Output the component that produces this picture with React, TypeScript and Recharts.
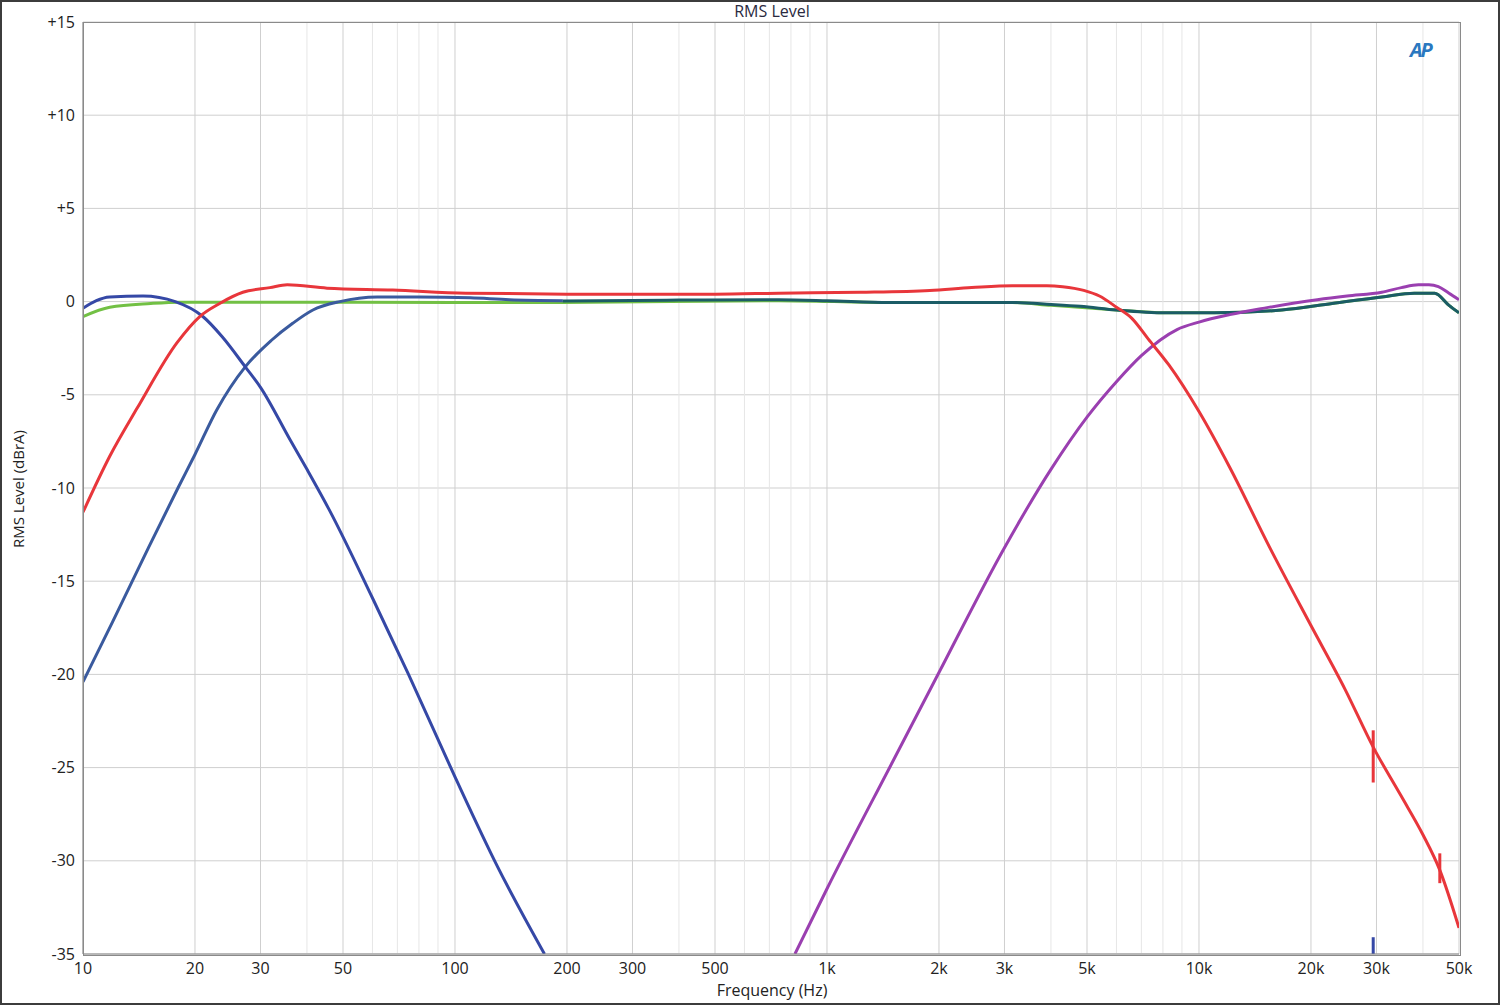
import React from "react";
import {
  LineChart,
  Line,
  XAxis,
  YAxis,
  CartesianGrid,
  ReferenceLine,
} from "recharts";

// frequency (Hz) / level (dBrA) pairs
const redFreq = [10, 11.8, 14, 17.9, 20.6, 23.3, 26.9, 31.8, 35.4, 45.3, 68, 107, 200, 500, 742, 1230, 1890, 2450, 3150, 3900, 4300, 4900, 5400, 6000, 6600, 7300, 8300, 10000, 12100, 15500, 19900, 24700, 29400, 34900, 40000, 44400, 50000];
const redLevel = [-11.3, -8.3, -5.7, -2.2, -0.8, -0.1, 0.5, 0.75, 0.9, 0.72, 0.62, 0.45, 0.4, 0.4, 0.45, 0.5, 0.6, 0.75, 0.85, 0.85, 0.8, 0.6, 0.3, -0.3, -0.9, -2.0, -3.4, -5.9, -8.9, -13.2, -17.3, -20.8, -23.9, -26.5, -28.6, -30.5, -33.6];

// short vertical glitches in the red trace
const redMark1Freq = [29400, 29400];
const redMark1Level = [-23.0, -25.8];
const redMark2Freq = [44400, 44400];
const redMark2Level = [-29.6, -31.2];

const blueLowFreq = [10, 11.8, 14.5, 17.7, 21, 23.7, 27.3, 30, 36, 40, 46, 60, 75, 100, 130, 174];
const blueLowLevel = [-0.35, 0.25, 0.3, 0, -0.8, -1.9, -3.5, -4.6, -7.4, -9.0, -11.2, -15.9, -20.0, -25.5, -30.3, -35];

const blueMarkFreq = [29400, 29400];
const blueMarkLevel = [-35, -34.1];

const blueHighFreq = [10, 12, 15, 18, 20, 22.9, 27.3, 32, 36.7, 41.5, 49, 61.8, 80, 110, 140, 195];
const blueHighLevel = [-20.4, -17.2, -13.2, -10.0, -8.2, -5.8, -3.5, -2.1, -1.15, -0.45, 0, 0.25, 0.25, 0.2, 0.1, 0.05];

const greenFreq = [10, 11.8, 15.2, 18.2, 30, 100, 195, 742, 1470, 3150, 4000, 6000, 8100, 11000, 16700, 22800, 31000, 37900, 43000, 47000, 50000];
const greenLevel = [-0.8, -0.3, -0.1, -0.03, -0.03, -0.05, -0.05, 0.05, -0.05, -0.05, -0.2, -0.45, -0.6, -0.6, -0.45, -0.1, 0.25, 0.45, 0.45, -0.2, -0.6];

const tealFreq = [195, 400, 742, 1000, 1470, 3150, 4000, 4800, 6000, 8100, 11000, 16700, 22800, 31000, 37900, 43000, 47000, 50000];
const tealLevel = [0.03, 0.08, 0.1, 0.05, -0.05, -0.05, -0.15, -0.25, -0.45, -0.6, -0.6, -0.45, -0.1, 0.25, 0.45, 0.45, -0.2, -0.6];

const purpleFreq = [820, 1000, 1500, 2000, 3000, 4000, 5000, 6000, 7000, 8730, 10000, 12100, 15000, 20800, 25000, 31000, 35000, 38900, 41500, 44000, 47000, 50000];
const purpleLevel = [-35, -31.5, -24.7, -19.9, -13.2, -9.0, -6.2, -4.3, -2.9, -1.5, -1.1, -0.7, -0.35, 0.1, 0.3, 0.5, 0.75, 0.9, 0.9, 0.8, 0.45, 0.1];

const xTicks = [10, 20, 30, 50, 100, 200, 300, 500, 1000, 2000, 3000, 5000, 10000, 20000, 30000, 50000];
const xMinor = [40, 60, 70, 80, 90, 400, 600, 700, 800, 900, 4000, 6000, 7000, 8000, 9000, 40000];
const yTicks = [-35, -30, -25, -20, -15, -10, -5, 0, 5, 10, 15];

const zip = (f: number[], v: number[]) => f.map((x, i) => ({ f: x, v: v[i] }));

const RED = "#e8363b";
const BLUE_LOW = "#3548a6";
const BLUE_HIGH = "#3a5a9e";
const GREEN = "#72c044";
const TEAL = "#1b5c66";
const PURPLE = "#9a3fb0";

const FONT = "'Open Sans', 'Noto Sans', sans-serif";

const fmtX = (v: number) => (v >= 1000 ? `${v / 1000}k` : `${v}`);
const fmtY = (v: number) => (v > 0 ? `+${v}` : `${v}`);

export default function App() {
  const series = [
    { key: "green", data: zip(greenFreq, greenLevel), color: GREEN, smooth: true },
    { key: "teal", data: zip(tealFreq, tealLevel), color: TEAL, smooth: true },
    { key: "blueHigh", data: zip(blueHighFreq, blueHighLevel), color: BLUE_HIGH, smooth: true },
    { key: "blueLow", data: zip(blueLowFreq, blueLowLevel), color: BLUE_LOW, smooth: true },
    { key: "blueMark", data: zip(blueMarkFreq, blueMarkLevel), color: BLUE_LOW, smooth: false },
    { key: "purple", data: zip(purpleFreq, purpleLevel), color: PURPLE, smooth: true },
    { key: "red", data: zip(redFreq, redLevel), color: RED, smooth: true },
    { key: "redMark1", data: zip(redMark1Freq, redMark1Level), color: RED, smooth: false },
    { key: "redMark2", data: zip(redMark2Freq, redMark2Level), color: RED, smooth: false },
  ];

  return (
    <div
      style={{
        position: "absolute",
        left: 0,
        top: 0,
        width: 1500,
        height: 1005,
        boxSizing: "border-box",
        border: "2px solid #3c3c3c",
        background: "#fff",
        fontFamily: FONT,
        overflow: "hidden",
      }}
    >
      <div style={{ position: "absolute", left: -2, top: -2 }}>
        <LineChart
          width={1500}
          height={1005}
          margin={{ top: 22, right: 41, bottom: 0, left: 0 }}
        >
          <CartesianGrid stroke="#cfcfcf" strokeWidth={1} />
          {xMinor.map((m) => (
            <ReferenceLine key={m} x={m} stroke="#e6e6e6" strokeWidth={1} />
          ))}
          <XAxis
            dataKey="f"
            type="number"
            scale="log"
            domain={[10, 50000]}
            ticks={xTicks}
            tickFormatter={fmtX}
            allowDataOverflow
            interval={0}
            height={51}
            tickLine={false}
            tickSize={0}
            tickMargin={9}
            axisLine={{ stroke: "#888" }}
            tick={{ fontSize: 16, fill: "#222", fontFamily: FONT }}
          />
          <YAxis
            type="number"
            domain={[-35, 15]}
            ticks={yTicks}
            tickFormatter={fmtY}
            allowDataOverflow
            width={83}
            tickLine={false}
            tickSize={0}
            tickMargin={8}
            axisLine={{ stroke: "#888" }}
            tick={{ fontSize: 16, fill: "#222", fontFamily: FONT }}
          />
          {series.map((s) => (
            <Line
              key={s.key}
              data={s.data}
              dataKey="v"
              type={s.smooth ? "monotone" : "linear"}
              stroke={s.color}
              strokeWidth={3}
              dot={false}
              activeDot={false}
              isAnimationActive={false}
            />
          ))}
        </LineChart>
      </div>

      {/* plot frame */}
      <div
        style={{
          position: "absolute",
          left: 81,
          top: 20,
          width: 1376,
          height: 932,
          border: "1px solid #8a8a8a",
          pointerEvents: "none",
        }}
      />

      <div
        style={{
          position: "absolute",
          left: 0,
          width: 1540,
          top: -2,
          textAlign: "center",
          fontSize: 16,
          color: "#2a2a40",
        }}
      >
        RMS Level
      </div>
      <div
        style={{
          position: "absolute",
          left: 0,
          width: 1540,
          top: 977,
          textAlign: "center",
          fontSize: 16,
          color: "#222",
        }}
      >
        Frequency (Hz)
      </div>
      <div
        style={{
          position: "absolute",
          left: 16 - 100,
          top: 488 - 11,
          width: 200,
          textAlign: "center",
          fontSize: 15,
          color: "#222",
          transform: "rotate(-90deg)",
        }}
      >
        RMS Level (dBrA)
      </div>
      <div
        style={{
          position: "absolute",
          left: 1408,
          top: 34,
          fontSize: 20,
          fontWeight: 700,
          fontStyle: "italic",
          color: "#2a78c0",
          letterSpacing: -2,
        }}
      >
        AP
      </div>
    </div>
  );
}
